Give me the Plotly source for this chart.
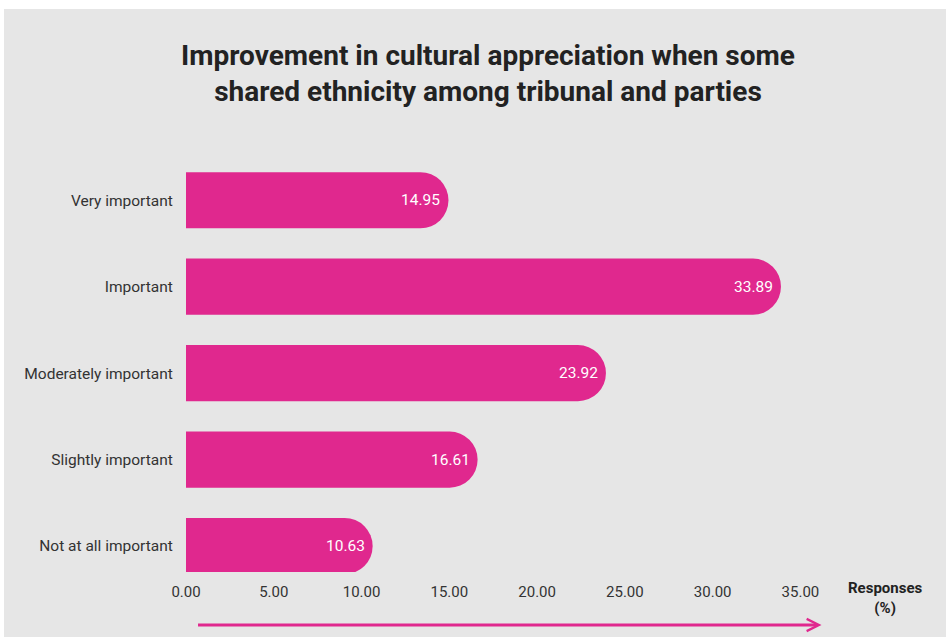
import plotly.graph_objects as go

# Survey responses (%) per importance level
categories = ["Very important", "Important", "Moderately important",
              "Slightly important", "Not at all important"]
responses = [14.95, 33.89, 23.92, 16.61, 10.63]
x_ticks = [0, 5, 10, 15, 20, 25, 30, 35]
x_tick_labels = ["0.00", "5.00", "10.00", "15.00", "20.00", "25.00", "30.00", "35.00"]

MAGENTA = "#E0288E"
PANEL = "#E6E6E6"
INK = "#333333"

W, H = 946, 637
M_L, M_R, M_T, M_B = 186, 128, 157, 65

fig = go.Figure()

# Bars with a semicircular cap at the value end
fig.add_trace(go.Bar(
    y=categories, x=responses, orientation="h",
    marker=dict(color=MAGENTA, cornerradius="50%", line=dict(width=0)),
    hoverinfo="skip", showlegend=False,
))

# Value labels inside bar ends
for cat, val in zip(categories, responses):
    fig.add_annotation(
        x=val, y=cat, xref="x", yref="y", text=f"{val:.2f}",
        xanchor="right", xshift=-6, showarrow=False,
        font=dict(family="Roboto", size=15.5, color="white"),
    )

plot_w = W - M_L - M_R
plot_h = H - M_T - M_B

# Grey panel behind the chart, leaving a thin white strip top and left
fig.add_shape(
    type="rect", xref="paper", yref="paper", layer="below",
    x0=(4 - M_L) / plot_w, x1=(W + 10 - M_L) / plot_w,
    y0=-(M_B + 10) / plot_h, y1=1 + (M_T - 9) / plot_h,
    fillcolor=PANEL, line=dict(width=0),
)

# Axis caption
fig.add_annotation(
    x=(886 - M_L) / plot_w, y=-(598 - (H - M_B)) / plot_h,
    xref="paper", yref="paper", text="<b>Responses<br>(%)</b>",
    showarrow=False, xanchor="center", yanchor="middle",
    font=dict(family="Roboto", size=15, color="#222222"),
)

# Direction arrow below the axis (open chevron head)
fig.add_annotation(
    x=36.2, y=-(625 - (H - M_B)) / plot_h, xref="x", yref="paper",
    ax=0.6, ay=0, axref="x", ayref="pixel",
    showarrow=True, arrowhead=5, arrowsize=0.8, arrowwidth=3,
    arrowcolor=MAGENTA, text="",
)

fig.update_layout(
    width=W, height=H,
    margin=dict(l=M_L, r=M_R, t=M_T, b=M_B),
    paper_bgcolor="white", plot_bgcolor=PANEL,
    bargap=0.35,
    title=dict(
        text="Improvement in cultural appreciation when some<br>shared ethnicity among tribunal and parties",
        x=488 / W, xanchor="center", y=1 - 65 / H, yanchor="middle",
        font=dict(family="Roboto", size=28, color="#222222", weight=700),
    ),
    xaxis=dict(
        range=[0, 36], tickvals=x_ticks, ticktext=x_tick_labels,
        showgrid=False, zeroline=False, showline=False,
        ticks="outside", ticklen=6, tickcolor="rgba(0,0,0,0)",
        tickfont=dict(family="Roboto", size=15, color=INK),
    ),
    yaxis=dict(
        categoryorder="array", categoryarray=categories[::-1],
        range=[-0.3, 4.5],
        showgrid=False, zeroline=False, showline=False,
        ticks="outside", ticklen=9, tickcolor="rgba(0,0,0,0)",
        tickfont=dict(family="Roboto", size=15.5, color=INK),
    ),
)

fig.write_html("out.html")
